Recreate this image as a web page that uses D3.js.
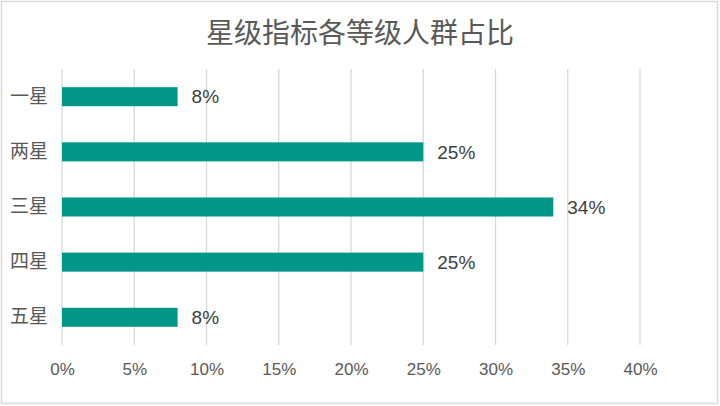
<!DOCTYPE html>
<html><head><meta charset="utf-8">
<script src="https://cdn.jsdelivr.net/npm/d3@7"></script>
<style>body{margin:0;background:#fff;}svg{display:block;font-family:"Liberation Sans","Noto Sans CJK SC",sans-serif;}</style>
</head><body>
<svg id="c" width="720" height="406"></svg>
<script>
const categories = ["一星","两星","三星","四星","五星"];
const values = [0.08,0.25,0.34,0.25,0.08];
const valueLabels = ["8%","25%","34%","25%","8%"];
const tickValues = [0,0.05,0.10,0.15,0.20,0.25,0.30,0.35,0.40];
const title = "星级指标各等级人群占比";

const svg = d3.select("#c");
svg.append("rect").attr("x",1.5).attr("y",1.5).attr("width",716).attr("height",402)
  .attr("fill","#fff").attr("stroke","#d9d9d9").attr("stroke-width",1.5);

const x = d3.scaleLinear().domain([0,0.40]).range([62,640]);
const y = d3.scaleBand().domain(categories).range([69,345]).paddingInner(0.655).paddingOuter(0.33);

const grid = svg.append("g");
grid.selectAll("line").data(tickValues).join("line")
  .attr("x1",d=>x(d)).attr("x2",d=>x(d)).attr("y1",69).attr("y2",345)
  .attr("stroke","#d9d9d9").attr("stroke-width",1.3);

const xAxis = svg.append("g").attr("transform","translate(0,345)")
  .call(d3.axisBottom(x).tickValues(tickValues).tickFormat(d3.format(".0%")).tickSize(0).tickPadding(18));
xAxis.select(".domain").remove();
xAxis.selectAll("text").attr("fill","#595959").attr("font-size",17).attr("font-family","Liberation Sans, sans-serif");

const yAxis = svg.append("g").attr("transform","translate(62,0)")
  .call(d3.axisLeft(y).tickSize(0).tickPadding(14));
yAxis.select(".domain").remove();
yAxis.selectAll("text").attr("fill","#595959").attr("font-size",19).attr("font-family","Noto Sans CJK SC, sans-serif");

svg.append("g").selectAll("rect").data(values).join("rect")
  .attr("x",x(0)).attr("y",(d,i)=>y(categories[i]))
  .attr("width",d=>x(d)-x(0)).attr("height",y.bandwidth())
  .attr("fill","#009688");

svg.append("g").selectAll("text").data(values).join("text")
  .attr("x",d=>x(d)+14).attr("y",(d,i)=>y(categories[i])+y.bandwidth()/2)
  .attr("dy","0.35em").attr("fill","#404040").attr("font-size",19).attr("font-family","Liberation Sans, sans-serif")
  .text((d,i)=>valueLabels[i]);

svg.append("text").attr("x",360).attr("y",33).attr("dy","0.35em").attr("text-anchor","middle")
  .attr("font-size",28).attr("fill","#595959").attr("font-family","Noto Sans CJK SC, sans-serif").text(title);
</script>
</body></html>
